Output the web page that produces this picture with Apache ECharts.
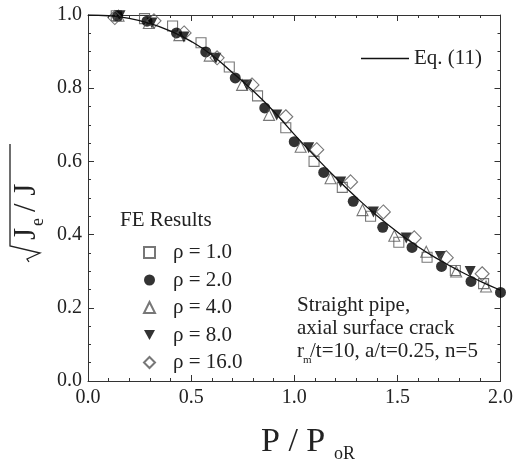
<!DOCTYPE html>
<html>
<head>
<meta charset="utf-8">
<script src="https://cdn.jsdelivr.net/npm/echarts@6/dist/echarts.min.js"></script>
<style>
  html, body { margin: 0; padding: 0; background: #fff; }
  #chart { width: 516px; height: 462px; }
</style>
</head>
<body>
<div id="chart"></div>
<script>
const FONT = '"Liberation Serif", "Times New Roman", serif'

// Eq. (11) curve
const eqP = [0.0, 0.1, 0.2, 0.3, 0.4, 0.5, 0.6, 0.7, 0.8, 0.9, 1.0, 1.1, 1.2, 1.3, 1.4, 1.5, 1.6, 1.7, 1.8, 1.9, 2.0]
const eqJ = [1.000, 0.998, 0.991, 0.977, 0.956, 0.928, 0.891, 0.843, 0.793, 0.737, 0.674, 0.614, 0.556, 0.502, 0.452, 0.407, 0.367, 0.332, 0.301, 0.273, 0.248]

// FE results
const rho1P = [0.137, 0.274, 0.410, 0.548, 0.685, 0.822, 0.959, 1.096, 1.233, 1.370, 1.507, 1.644, 1.781, 1.918]
const rho1J = [0.998, 0.990, 0.970, 0.924, 0.858, 0.779, 0.692, 0.600, 0.529, 0.450, 0.379, 0.338, 0.302, 0.266]

const rho2P = [0.143, 0.286, 0.429, 0.571, 0.714, 0.857, 1.000, 1.143, 1.286, 1.429, 1.571, 1.714, 1.857, 2.000]
const rho2J = [0.997, 0.983, 0.951, 0.899, 0.828, 0.746, 0.654, 0.570, 0.491, 0.420, 0.365, 0.313, 0.272, 0.242]

const rho4P = [0.148, 0.295, 0.443, 0.590, 0.747, 0.878, 1.031, 1.176, 1.331, 1.485, 1.640, 1.785, 1.930]
const rho4J = [0.998, 0.978, 0.945, 0.889, 0.809, 0.727, 0.640, 0.554, 0.467, 0.397, 0.353, 0.299, 0.258]

const rho8P = [0.155, 0.310, 0.465, 0.620, 0.771, 0.915, 1.070, 1.225, 1.384, 1.543, 1.708, 1.853]
const rho8J = [0.998, 0.978, 0.940, 0.882, 0.809, 0.727, 0.637, 0.544, 0.462, 0.391, 0.340, 0.299]

const rho16P = [0.130, 0.320, 0.466, 0.626, 0.795, 0.959, 1.109, 1.273, 1.432, 1.582, 1.737, 1.911]
const rho16J = [0.993, 0.984, 0.951, 0.883, 0.809, 0.722, 0.632, 0.544, 0.462, 0.391, 0.337, 0.293]

const feNames = ['ρ = 1.0', 'ρ = 2.0', 'ρ = 4.0', 'ρ = 8.0', 'ρ = 16.0']

const pairs = (xs, ys) => xs.map((x, i) => [x, ys[i]])

const openStyle = { color: 'rgba(255,255,255,0)', borderColor: '#555', borderWidth: 1.1 }
const fillStyle = { color: '#000' }
const triDown = 'path://M0,0 L12,0 L6,11 Z'

const axisCommon = {
  type: 'value',
  axisLine: { show: true, onZero: false, lineStyle: { color: '#333', width: 1 } },
  axisTick: { show: true, inside: true, length: 6, lineStyle: { color: '#333' } },
  minorTick: { show: true, length: 3, lineStyle: { color: '#333' } },
  splitLine: { show: false }
}

const labelStyle = { fontFamily: FONT, fontSize: 20, color: '#222' }
const txt = (size) => size + 'px ' + FONT

const chart = echarts.init(document.getElementById('chart'))
chart.setOption({
  animation: false,
  grid: { left: 88, top: 15, width: 414, height: 366 },
  xAxis: [
    {
      ...axisCommon, min: 0, max: 2, interval: 0.5, position: 'bottom',
      minorTick: { ...axisCommon.minorTick, splitNumber: 5 },
      axisLabel: { ...labelStyle, margin: 7, formatter: v => v.toFixed(1) }
    },
    {
      ...axisCommon, min: 0, max: 2, interval: 0.5, position: 'top',
      minorTick: { ...axisCommon.minorTick, splitNumber: 5 },
      axisLabel: { show: false }
    }
  ],
  yAxis: [
    {
      ...axisCommon, min: 0, max: 1, interval: 0.2, position: 'left',
      minorTick: { ...axisCommon.minorTick, splitNumber: 4 },
      axisLabel: { ...labelStyle, margin: 6, formatter: v => v.toFixed(1) }
    },
    {
      ...axisCommon, min: 0, max: 1, interval: 0.2, position: 'right',
      minorTick: { ...axisCommon.minorTick, splitNumber: 4 },
      axisLabel: { show: false }
    }
  ],
  legend: [
    {
      data: [
        { name: feNames[0] },
        { name: feNames[1] },
        { name: feNames[2] },
        { name: feNames[3], icon: triDown },
        { name: feNames[4] }
      ],
      orient: 'vertical',
      left: 138,
      top: 237,
      itemWidth: 11,
      itemHeight: 11,
      itemGap: 6.5,
      selectedMode: false,
      textStyle: { fontFamily: FONT, fontSize: 21, color: '#222', padding: [0, 0, 0, 13] }
    },
    {
      data: [{ name: 'Eq. (11)', icon: 'rect' }],
      left: 356,
      top: 43,
      itemWidth: 48,
      itemHeight: 1.4,
      selectedMode: false,
      textStyle: { fontFamily: FONT, fontSize: 21, color: '#222' }
    }
  ],
  series: [
    { name: feNames[0], type: 'scatter', symbol: 'rect', symbolSize: 10, itemStyle: openStyle, data: pairs(rho1P, rho1J) },
    { name: feNames[1], type: 'scatter', symbol: 'circle', symbolSize: 11, itemStyle: fillStyle, data: pairs(rho2P, rho2J) },
    { name: feNames[2], type: 'scatter', symbol: 'triangle', symbolSize: 11, itemStyle: openStyle, data: pairs(rho4P, rho4J) },
    { name: feNames[3], type: 'scatter', symbol: 'triangle', symbolRotate: 180, symbolSize: 11, itemStyle: fillStyle, data: pairs(rho8P, rho8J) },
    { name: feNames[4], type: 'scatter', symbol: 'diamond', symbolSize: 14, itemStyle: openStyle, data: pairs(rho16P, rho16J) },
    {
      name: 'Eq. (11)', type: 'line', smooth: true, symbol: 'none', z: 5,
      lineStyle: { color: '#111', width: 1.3 }, itemStyle: { color: '#111' },
      data: pairs(eqP, eqJ)
    }
  ],
  graphic: [
    { type: 'text', left: 120, top: 210, style: { text: 'FE Results', font: txt(21), fill: '#222' } },
    { type: 'text', left: 297, top: 295, style: { text: 'Straight pipe,', font: txt(21), fill: '#222' } },
    { type: 'text', left: 297, top: 318, style: { text: 'axial surface crack', font: txt(21), fill: '#222' } },
    { type: 'text', left: 297, top: 341, style: { text: 'r', font: txt(21), fill: '#222' } },
    { type: 'text', left: 303, top: 355, style: { text: 'm', font: txt(11), fill: '#222' } },
    { type: 'text', left: 310, top: 341, style: { text: '/t=10, a/t=0.25, n=5', font: txt(21), fill: '#222' } },
    // x axis title
    { type: 'text', left: 261, top: 425, style: { text: 'P / P', font: txt(34), fill: '#222' } },
    { type: 'text', left: 334, top: 445, style: { text: 'oR', font: txt(18), fill: '#222' } },
    // y axis title, rotated
    {
      type: 'group', x: 38, y: 262, rotation: Math.PI / 2,
      children: [
        { type: 'polyline', shape: { points: [[0, -9], [3, -11], [9, 2], [16, -28], [118, -28]] }, style: { stroke: '#222', lineWidth: 1.3, fill: null } },
        { type: 'text', x: 22, y: 4, style: { text: 'J', font: txt(31), fill: '#222', verticalAlign: 'bottom' } },
        { type: 'text', x: 36, y: 9, style: { text: 'e', font: txt(18), fill: '#222', verticalAlign: 'bottom' } },
        { type: 'text', x: 50, y: 4, style: { text: '/ J', font: txt(31), fill: '#222', verticalAlign: 'bottom' } }
      ]
    }
  ]
})
</script>
</body>
</html>
